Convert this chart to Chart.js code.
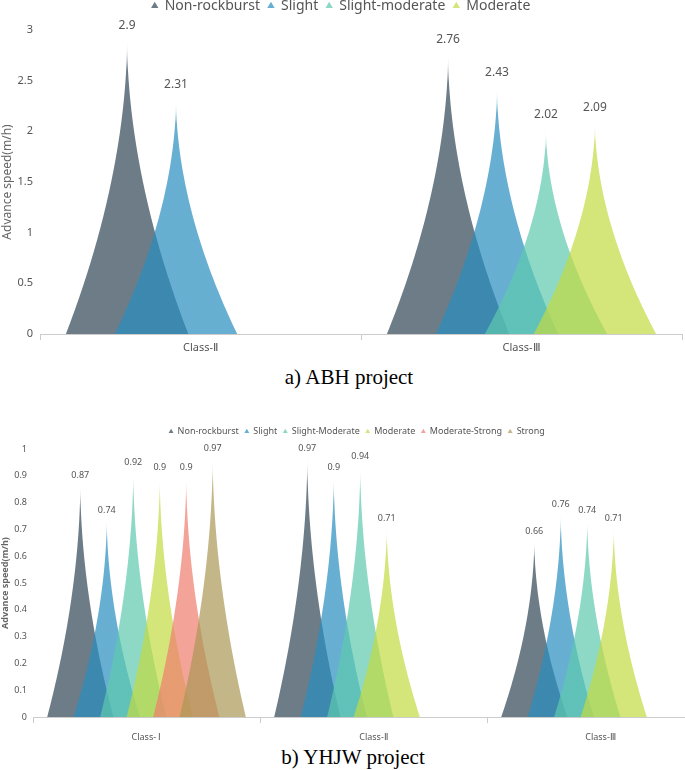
<!DOCTYPE html>
<html>
<head>
<meta charset="utf-8">
<script src="https://cdn.jsdelivr.net/npm/chart.js@4.4.1/dist/chart.umd.min.js"></script>
<style>
html,body{margin:0;padding:0;background:#fff;width:685px;height:770px;overflow:hidden;position:relative;}
#wrapA{position:absolute;left:0;top:-9px;width:685px;height:369px;}
#wrapB{position:absolute;left:0;top:421px;width:720px;height:322px;}
.cap{position:absolute;font-family:"Liberation Serif","Times New Roman",serif;font-size:21px;color:#000;white-space:nowrap;transform:translateX(-50%);}
</style>
</head>
<body>
<div id="wrapA"><canvas id="chartA"></canvas></div>
<div class="cap" style="left:349px;top:365px;">a)&thinsp;ABH project</div>
<div id="wrapB"><canvas id="chartB"></canvas></div>
<div class="cap" style="left:353px;top:745px;">b) YHJW project</div>
<script>
// ABH project
const abhClasses = ['Class-Ⅱ', 'Class-Ⅲ'];
const abhNames = ['Non-rockburst', 'Slight', 'Slight-moderate', 'Moderate'];
const abhNonRockburst = [2.9, 2.76];
const abhSlight = [2.31, 2.43];
const abhSlightModerate = [null, 2.02];
const abhModerate = [null, 2.09];
const abhTicks = [0, 0.5, 1, 1.5, 2, 2.5, 3];

// YHJW project
const yhjwClasses = ['Class- Ⅰ', 'Class-Ⅱ', 'Class-Ⅲ'];
const yhjwNames = ['Non-rockburst', 'Slight', 'Slight-Moderate', 'Moderate', 'Moderate-Strong', 'Strong'];
const yhjwNonRockburst = [0.87, 0.97, 0.66];
const yhjwSlight = [0.74, 0.9, 0.76];
const yhjwSlightModerate = [0.92, 0.94, 0.74];
const yhjwModerate = [0.9, 0.71, 0.71];
const yhjwModerateStrong = [0.9, null, null];
const yhjwStrong = [0.97, null, null];
const yhjwTicks = [0, 0.1, 0.2, 0.3, 0.4, 0.5, 0.6, 0.7, 0.8, 0.9, 1];

// base colours, drawn at 0.7 alpha like the original
const baseColors = [[47,69,84],[39,141,191],[93,201,174],[194,218,65],[239,124,109],[170,151,85]];
const ALPHA = 0.7;
const rgba = (c, a) => `rgba(${c[0]},${c[1]},${c[2]},${a})`;
const FONT = '"Noto Sans", "Open Sans", sans-serif';

// spiky pictorial bars drawn from the bar elements
const spikePlugin = {
  id: 'spikes',
  beforeUpdate(chart, args, opts){
    const lg = chart.legend;
    if (lg && !lg._patched){
      const orig = lg.fit;
      lg.fit = function(){ orig.call(this); this.height = opts.legendHeight; };
      lg._patched = true;
    }
  },
  beforeDatasetDraw(){ return false; },
  afterDatasetsDraw(chart, args, opts){
    const ctx = chart.ctx;
    ctx.save();
    chart.data.datasets.forEach((ds, i) => {
      const meta = chart.getDatasetMeta(i);
      const col = baseColors[i];
      meta.data.forEach((el, j) => {
        const v = ds.data[j];
        if (v == null) return;
        const half = el.width * 1.25, h = el.base - el.y;
        const g = ctx.createLinearGradient(0, el.y, 0, el.base);
        g.addColorStop(0, rgba(col, 0.1));
        g.addColorStop(0.1, rgba(col, ALPHA));
        g.addColorStop(1, rgba(col, ALPHA));
        ctx.fillStyle = g;
        ctx.beginPath();
        const N = 50, P = 1.85;
        ctx.moveTo(el.x - half, el.base);
        for (let k = 1; k <= N; k++){
          const f = k / N;
          ctx.lineTo(el.x - half * Math.pow(1 - f, P), el.base - f * h);
        }
        for (let k = N - 1; k >= 0; k--){
          const f = k / N;
          ctx.lineTo(el.x + half * Math.pow(1 - f, P), el.base - f * h);
        }
        ctx.closePath();
        ctx.fill();
      });
    });
    ctx.fillStyle = '#555';
    ctx.font = opts.labelSize + 'px ' + FONT;
    ctx.textAlign = 'center';
    ctx.textBaseline = 'bottom';
    chart.data.datasets.forEach((ds, i) => {
      chart.getDatasetMeta(i).data.forEach((el, j) => {
        const v = ds.data[j];
        if (v == null) return;
        ctx.fillText(String(v), el.x, el.y - opts.labelGap);
      });
    });
    ctx.restore();
  }
};

function makeChart(id, classes, names, series, ticks, cfg){
  return new Chart(document.getElementById(id), {
    type: 'bar',
    data: {
      labels: classes,
      datasets: series.map((s, i) => ({
        label: names[i], data: s,
        backgroundColor: rgba(baseColors[i], ALPHA), borderWidth: 0,
        pointStyle: 'triangle',
        categoryPercentage: cfg.catPct, barPercentage: 1
      }))
    },
    options: {
      responsive: true, maintainAspectRatio: false, animation: false,
      layout: { padding: { left: 0, right: cfg.rightPad, top: 0, bottom: 0 } },
      plugins: {
        spikes: { legendHeight: cfg.legendHeight, labelSize: cfg.labelSize, labelGap: cfg.labelGap },
        tooltip: { enabled: false },
        legend: {
          position: 'top',
          labels: {
            usePointStyle: true, boxWidth: cfg.marker, boxHeight: cfg.marker,
            padding: cfg.legendPad, color: '#555',
            font: { family: FONT, size: cfg.legendSize }
          }
        }
      },
      scales: {
        x: {
          afterFit: s => { s.height = cfg.xHeight; },
          grid: { offset: true, drawOnChartArea: false, color: '#ccc', tickLength: 6 },
          border: { color: '#ccc' },
          ticks: { color: '#555', font: { family: FONT, size: cfg.xSize }, padding: cfg.xPad }
        },
        y: {
          min: ticks[0], max: ticks[ticks.length - 1],
          afterFit: s => { s.width = cfg.yWidth; },
          afterBuildTicks: s => { s.ticks = ticks.map(v => ({ value: v })); },
          grid: { display: false, drawTicks: false },
          border: { display: false },
          ticks: { color: '#555', font: { family: FONT, size: cfg.ySize }, padding: cfg.yPad,
                   callback: v => String(+v.toFixed(2)) },
          title: { display: true, text: 'Advance speed(m/h)', color: '#666',
                   font: { family: FONT, size: cfg.titleSize, weight: cfg.titleWeight }, padding: 0 }
        }
      }
    },
    plugins: [spikePlugin]
  });
}

makeChart('chartA', abhClasses, abhNames,
  [abhNonRockburst, abhSlight, abhSlightModerate, abhModerate], abhTicks,
  { catPct: 0.61, rightPad: 3, legendHeight: 39, labelSize: 12, labelGap: 9, marker: 6,
    legendPad: 8, legendSize: 14, xHeight: 26, xSize: 11, xPad: 1, yWidth: 40, ySize: 11, yPad: 7,
    titleSize: 12, titleWeight: 'normal' });

makeChart('chartB', yhjwClasses, yhjwNames,
  [yhjwNonRockburst, yhjwSlight, yhjwSlightModerate, yhjwModerate, yhjwModerateStrong, yhjwStrong], yhjwTicks,
  { catPct: 0.70, rightPad: 6, legendHeight: 28, labelSize: 9, labelGap: 4, marker: 4,
    legendPad: 6, legendSize: 9, xHeight: 26, xSize: 9, xPad: 9, yWidth: 33, ySize: 9, yPad: 6,
    titleSize: 9, titleWeight: 'bold' });
</script>
</body>
</html>
